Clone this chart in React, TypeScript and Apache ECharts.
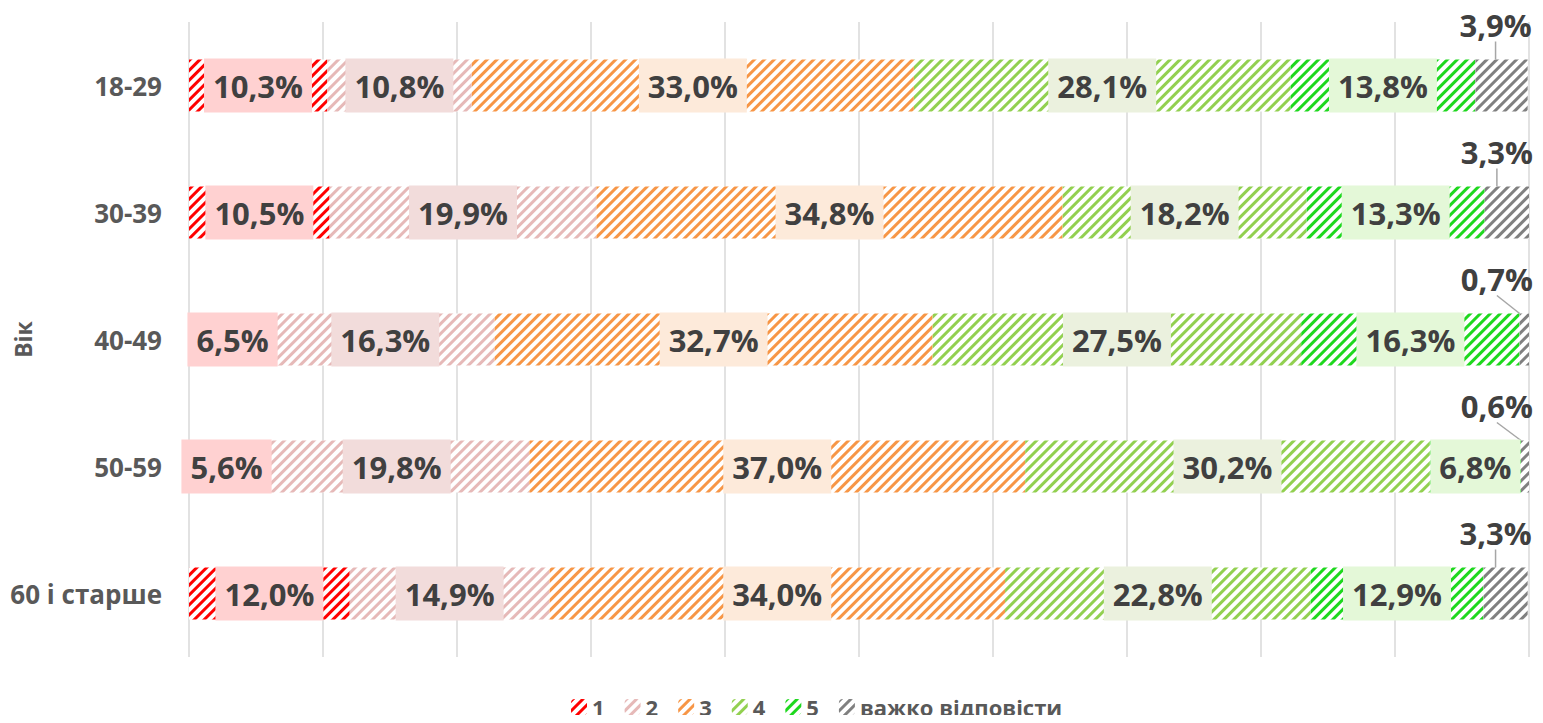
import React, { useEffect, useRef } from "react";
import * as echarts from "echarts";

const categories = ["18-29", "30-39", "40-49", "50-59", "60 і старше"];
const seriesNames = ["1", "2", "3", "4", "5", "важко відповісти"];
const s1 = [10.3, 10.5, 6.5, 5.6, 12.0];
const s2 = [10.8, 19.9, 16.3, 19.8, 14.9];
const s3 = [33.0, 34.8, 32.7, 37.0, 34.0];
const s4 = [28.1, 18.2, 27.5, 30.2, 22.8];
const s5 = [13.8, 13.3, 16.3, 6.8, 12.9];
const sHard = [3.9, 3.3, 0.7, 0.6, 3.3];
const seriesValues = [s1, s2, s3, s4, s5, sHard];

const colors = ["#FF0000", "#E6B9B8", "#F79646", "#92D050", "#1ED81E", "#808080"];
const labelBg = ["#FFD1D1", "#F2DCDB", "#FDEADA", "#EBF1DE", "#E4F8D8", null];

const FONT = "'Open Sans', 'Noto Sans', sans-serif";

const fmt = (v: number) => v.toFixed(1).replace(".", ",") + "%";

export default function App() {
  const ref = useRef<HTMLDivElement>(null);
  useEffect(() => {
    if (!ref.current) return;
    const chart = echarts.init(ref.current, undefined, { renderer: "svg" });
    const series: any[] = seriesValues.map((vals, i) => {
      const isLast = i === seriesValues.length - 1;
      const base: any = {
        name: seriesNames[i],
        type: "bar",
        stack: "total",
        barWidth: 52,
        data: vals,
        itemStyle: {
          color: "#ffffff",
          borderWidth: 0,
          decal: {
            symbol: "rect",
            symbolSize: 1,
            dashArrayX: [[1, 0]],
            dashArrayY: [3, 4],
            rotation: -Math.PI / 4,
            color: colors[i],
          },
        },
        label: {
          show: true,
          position: "inside",
          formatter: (p: any) => fmt(p.value),
          fontFamily: FONT,
          fontSize: 31,
          fontWeight: "bold",
          color: "#404040",
          lineHeight: 34,
          borderWidth: 0,
          textBorderWidth: 0,
        },
      };
      if (!isLast) {
        base.label.backgroundColor = labelBg[i];
        base.label.padding = [10, 9];
      } else {
        base.labelLayout = (p: any) => ({
          x: p.rect.x + p.rect.width + 4,
          y: p.rect.y - 35,
          align: "right",
          verticalAlign: "middle",
        });
        base.labelLine = {
          show: true,
          lineStyle: { color: "#A6A6A6", width: 1.5 },
        };
      }
      return base;
    });

    chart.setOption({
      animation: false,
      grid: {
        left: 189,
        right: 14,
        top: 22,
        bottom: 66,
        containLabel: false,
        outerBoundsMode: "none",
      },
      legend: {
        data: seriesNames,
        bottom: 0,
        left: 566,
        itemWidth: 16,
        itemHeight: 16,
        itemGap: 20,
        textStyle: {
          fontFamily: FONT,
          fontSize: 22,
          fontWeight: "bold",
          color: "#595959",
        },
      },
      xAxis: {
        type: "value",
        min: 0,
        max: 100,
        interval: 10,
        axisLabel: { show: false },
        axisLine: { show: false },
        axisTick: { show: false },
        splitLine: { show: true, lineStyle: { color: "#D9D9D9", width: 1.5 } },
      },
      yAxis: {
        type: "category",
        data: categories,
        inverse: true,
        name: "Вік",
        nameLocation: "middle",
        nameGap: 155,
        nameMoveOverlap: false,
        nameTextStyle: {
          fontFamily: FONT,
          fontSize: 23,
          fontWeight: "bold",
          color: "#595959",
        },
        axisLine: { show: false },
        axisTick: { show: false },
        axisLabel: {
          margin: 27,
          fontFamily: FONT,
          fontSize: 26,
          fontWeight: "bold",
          color: "#595959",
        },
      },
      series,
    });
    return () => chart.dispose();
  }, []);
  return <div ref={ref} style={{ width: 1543, height: 723, margin: -8 }} />;
}
